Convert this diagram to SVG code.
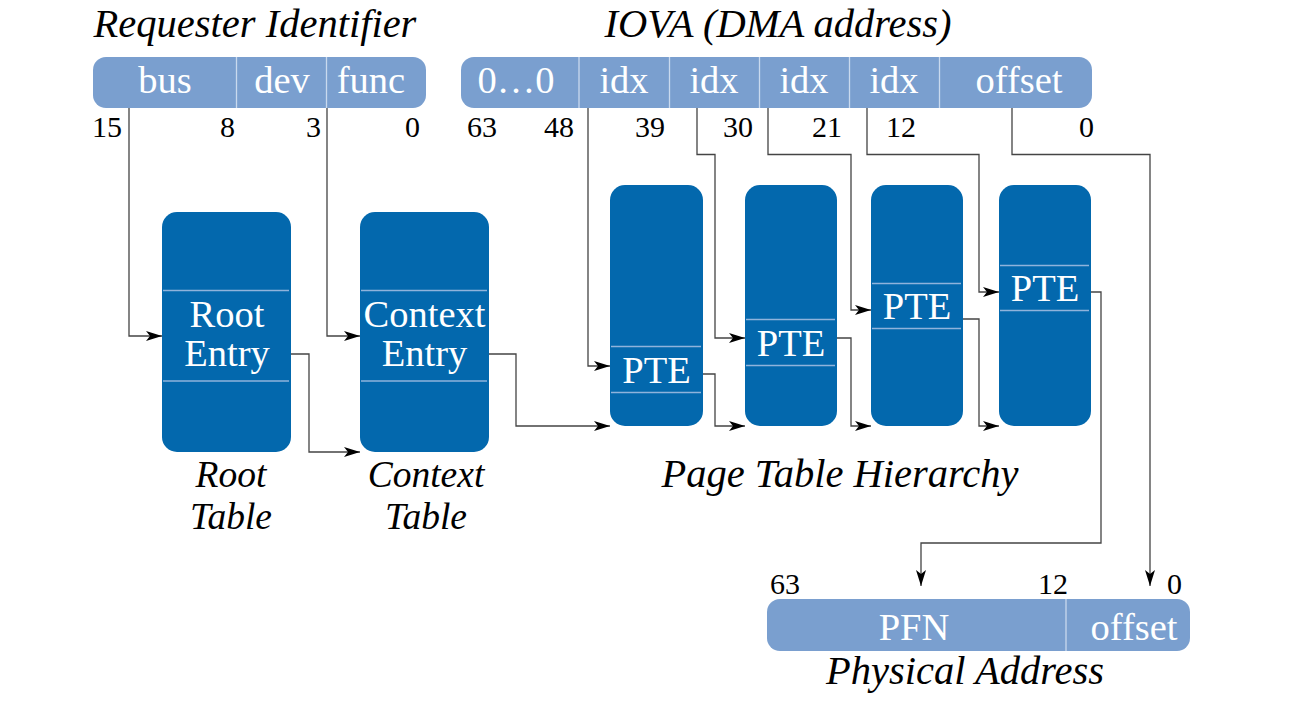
<svg xmlns="http://www.w3.org/2000/svg" width="1306" height="704" viewBox="0 0 1306 704">
<defs>
<style>
.bar{fill:#7a9fcf}
.div{stroke:#c9d9ee;stroke-width:1.3}
.box{fill:#0368ad}
.sep{stroke:#8fb3dc;stroke-width:1.5}
.wt{font-family:"Liberation Serif",serif;font-size:38.5px;fill:#ffffff;text-anchor:middle}
.num{font-family:"Liberation Serif",serif;font-size:30px;fill:#000000}
.cap{font-family:"Liberation Serif",serif;font-size:40.5px;font-style:italic;fill:#000000;text-anchor:middle}
.cap2{font-family:"Liberation Serif",serif;font-size:37.5px;font-style:italic;fill:#000000;text-anchor:middle}
.arr{fill:none;stroke:#444444;stroke-width:1.3;marker-end:url(#ah)}
</style>
<marker id="ah" viewBox="0 0 16 10" refX="16" refY="5" markerWidth="16" markerHeight="10" markerUnits="userSpaceOnUse" orient="auto">
<path d="M0,0 L16,5 L0,10 L4,5 Z" fill="#000000"/>
</marker>
</defs>

<g id="requester">
<text class="cap" x="255" y="37">Requester Identifier</text>
<rect class="bar" x="93" y="57" width="333" height="51" rx="13"/>
<line class="div" x1="236.5" y1="57" x2="236.5" y2="108"/>
<line class="div" x1="326.5" y1="57" x2="326.5" y2="108"/>
<text class="wt" x="165" y="93">bus</text>
<text class="wt" x="282" y="93">dev</text>
<text class="wt" x="371" y="93">func</text>
<text class="num" x="92" y="137">15</text>
<text class="num" x="235" y="137" text-anchor="end">8</text>
<text class="num" x="321" y="137" text-anchor="end">3</text>
<text class="num" x="420" y="137" text-anchor="end">0</text>
</g>

<g id="iova">
<text class="cap" x="778" y="37">IOVA (DMA address)</text>
<rect class="bar" x="461" y="57" width="631" height="51" rx="13"/>
<line class="div" x1="579" y1="57" x2="579" y2="108"/>
<line class="div" x1="669.5" y1="57" x2="669.5" y2="108"/>
<line class="div" x1="759.5" y1="57" x2="759.5" y2="108"/>
<line class="div" x1="849.5" y1="57" x2="849.5" y2="108"/>
<line class="div" x1="939.5" y1="57" x2="939.5" y2="108"/>
<text class="wt" x="516" y="93">0…0</text>
<text class="wt" x="624" y="93">idx</text>
<text class="wt" x="714" y="93">idx</text>
<text class="wt" x="804" y="93">idx</text>
<text class="wt" x="894" y="93">idx</text>
<text class="wt" x="1019" y="93">offset</text>
<text class="num" x="467" y="137">63</text>
<text class="num" x="574" y="137" text-anchor="end">48</text>
<text class="num" x="665" y="137" text-anchor="end">39</text>
<text class="num" x="753" y="137" text-anchor="end">30</text>
<text class="num" x="842" y="137" text-anchor="end">21</text>
<text class="num" x="916" y="137" text-anchor="end">12</text>
<text class="num" x="1094" y="137" text-anchor="end">0</text>
</g>

<g id="root-table">
<rect class="box" x="162" y="212" width="129" height="240" rx="15"/>
<line class="sep" x1="163" y1="290.5" x2="289" y2="290.5"/>
<line class="sep" x1="163" y1="381" x2="289" y2="381"/>
<text class="wt" x="227" y="327">Root</text>
<text class="wt" x="227" y="366">Entry</text>
<text class="cap2" x="231" y="487">Root</text>
<text class="cap2" x="231" y="529">Table</text>
</g>

<g id="context-table">
<rect class="box" x="360" y="212" width="129" height="240" rx="15"/>
<line class="sep" x1="361" y1="290.5" x2="487" y2="290.5"/>
<line class="sep" x1="361" y1="381" x2="487" y2="381"/>
<text class="wt" x="424.5" y="327">Context</text>
<text class="wt" x="424.5" y="366">Entry</text>
<text class="cap2" x="426" y="487">Context</text>
<text class="cap2" x="426" y="529">Table</text>
</g>

<g id="pt1">
<rect class="box" x="610" y="185" width="93" height="241" rx="15"/>
<line class="sep" x1="611" y1="346.5" x2="701" y2="346.5"/>
<line class="sep" x1="611" y1="392.5" x2="701" y2="392.5"/>
<text class="wt" x="656.5" y="383">PTE</text>
</g>
<g id="pt2">
<rect class="box" x="745" y="185" width="92" height="241" rx="15"/>
<line class="sep" x1="746" y1="319.5" x2="835" y2="319.5"/>
<line class="sep" x1="746" y1="365.5" x2="835" y2="365.5"/>
<text class="wt" x="791" y="356">PTE</text>
</g>
<g id="pt3">
<rect class="box" x="871" y="185" width="92" height="241" rx="15"/>
<line class="sep" x1="872" y1="283.5" x2="961" y2="283.5"/>
<line class="sep" x1="872" y1="328.5" x2="961" y2="328.5"/>
<text class="wt" x="917" y="319">PTE</text>
</g>
<g id="pt4">
<rect class="box" x="999" y="185" width="92" height="241" rx="15"/>
<line class="sep" x1="1000" y1="265.5" x2="1089" y2="265.5"/>
<line class="sep" x1="1000" y1="310.5" x2="1089" y2="310.5"/>
<text class="wt" x="1045" y="301">PTE</text>
</g>
<text class="cap" x="840" y="487">Page Table Hierarchy</text>

<g id="physical">
<rect class="bar" x="767" y="599" width="423" height="52" rx="13"/>
<line class="div" x1="1066" y1="599" x2="1066" y2="651"/>
<text class="wt" x="914" y="640">PFN</text>
<text class="wt" x="1134" y="640">offset</text>
<text class="num" x="770" y="594">63</text>
<text class="num" x="1068" y="594" text-anchor="end">12</text>
<text class="num" x="1167" y="594">0</text>
<text class="cap" x="965" y="684">Physical Address</text>
</g>

<g id="connectors">
<path class="arr" d="M129,108 V336 H162"/>
<path class="arr" d="M327,108 V336 H360"/>
<path class="arr" d="M291,354 H309 V452 H360"/>
<path class="arr" d="M489,354 H516 V426 H610"/>
<path class="arr" d="M588,108 V366 H610"/>
<path class="arr" d="M703,374 H715 V426 H745"/>
<path class="arr" d="M697,108 V154.5 H715 V338 H745"/>
<path class="arr" d="M837,338 H851 V426 H871"/>
<path class="arr" d="M768,108 V154.5 H851 V310 H871"/>
<path class="arr" d="M963,319 H979 V426 H999"/>
<path class="arr" d="M867,108 V154.5 H979 V292 H999"/>
<path class="arr" d="M1091,292 H1101 V543 H921 V586"/>
<path class="arr" d="M1012,108 V154.5 H1150 V586"/>
</g>
</svg>
